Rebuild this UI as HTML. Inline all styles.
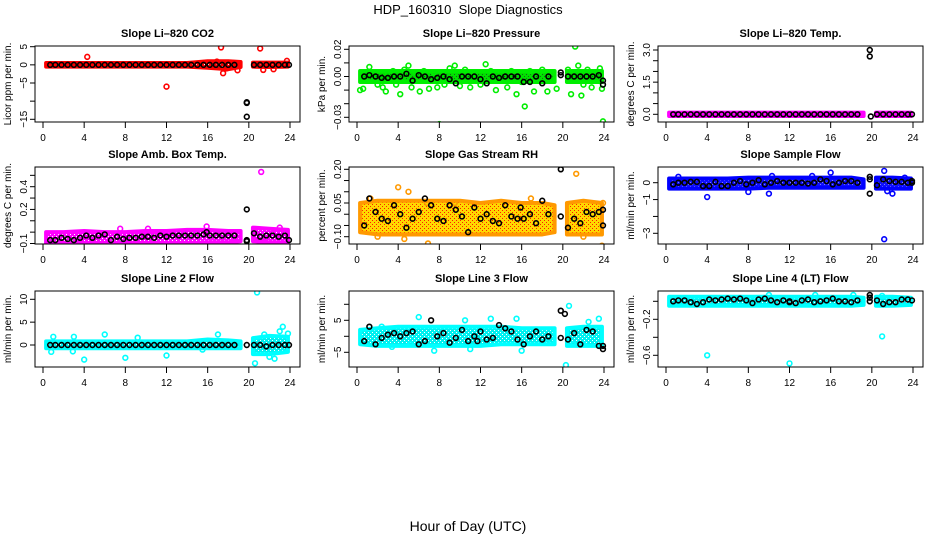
<!DOCTYPE html>
<html><head><meta charset="utf-8"><style>
body{margin:0;background:#fff;}
svg{display:block;font-family:"Liberation Sans",sans-serif;}
</style></head><body>
<svg id="chart" width="936" height="540" viewBox="0 0 936 540">
<rect width="936" height="540" fill="#fff"/>
<text x="468" y="14" text-anchor="middle" font-size="13">HDP_160310&#160; Slope Diagnostics</text>
<text x="468" y="531" text-anchor="middle" font-size="14">Hour of Day (UTC)</text>
</svg>
<script>
const xTicks = [0,4,8,12,16,20,24];
const blackHours = [0.7,1.2,1.8,2.4,3,3.6,4.2,4.8,5.4,6,6.6,7.2,7.8,8.4,9,9.6,10.2,10.8,11.4,12,12.6,13.2,13.8,14.4,15,15.6,16.2,16.8,17.4,18,18.6,19.8,20.5,21.1,21.7,22.3,22.9,23.5,23.9];
const bandHours = [0.3,2,4,6,8,10,12,14,16,18,19.2,null,20.4,22,23.8];

const co2Lo = [-0.5,-0.5,-0.5,-0.5,-0.5,-0.5,-0.5,-0.5,-0.8,-1.2,-0.6,null,-0.5,-0.6,-0.5];
const co2Hi = [0.5,0.5,0.5,0.5,0.5,0.5,0.5,0.5,1,1,0.8,null,0.6,0.6,0.6];
const co2Pts = [[4.3,2.2],[12,-6],[17.3,4.8],[17.5,-2.3],[18.9,-1.5],[21.1,4.5],[21.4,-1.4],[22.4,-1.2],[23.7,1.1],[16.9,0.9],[17.8,-1.0]];
const co2Black = [0,0,0,0,0,0,0,0,0,0,0,0,0,0,0,0,0,0,0,0,0,0,0,0,0,0,0,0,0,0,0,-10.5,0,0,0,0,0,0,0];
const co2Extra = [[19.8,-14.3],[19.8,-10.3]];

const presLo = [-0.004,-0.004,-0.004,-0.004,-0.004,-0.004,-0.004,-0.004,-0.004,-0.004,-0.004,null,-0.004,-0.004,-0.004];
const presHi = [0.004,0.004,0.004,0.004,0.004,0.004,0.004,0.004,0.004,0.004,0.004,null,0.004,0.004,0.004];
const presPts = [[0.3,-0.01],[0.6,-0.009],[1,0.001],[1.2,0.007],[1.5,0.003],[2,-0.006],[2.5,-0.008],[2.8,-0.011],[3,0.003],[3.5,0.004],[3.8,-0.006],[4.2,-0.013],[4.6,0.005],[5,0.008],[5.3,-0.008],[5.7,0.003],[6.1,-0.011],[6.5,0.004],[7,-0.009],[7.5,0.003],[7.8,-0.008],[8,-0.035],[8.5,-0.006],[9,0.006],[9.5,0.008],[10,-0.007],[10.5,0.005],[11,-0.008],[11.4,0.002],[12,-0.006],[12.5,0.009],[13,0.004],[13.5,-0.01],[14,0.002],[14.6,-0.008],[15,0.004],[15.5,-0.013],[16,-0.004],[16.3,-0.022],[16.8,0.004],[17.2,-0.011],[17.7,0.003],[18,0.005],[18.5,-0.011],[19,0.003],[19.4,-0.009],[20.5,0.005],[20.8,-0.013],[21.2,0.022],[21.5,0.008],[21.8,-0.014],[22,-0.006],[22.4,0.005],[22.8,-0.008],[23.2,0.003],[23.6,0.006],[23.8,-0.009],[23.9,-0.033]];
const presBlack = [0,0.001,0,-0.001,-0.001,0,0,0.002,-0.003,0.001,0,-0.002,-0.001,0,-0.002,-0.005,0,0,0,-0.002,-0.005,0,-0.001,0,0,0,-0.004,-0.004,0,-0.005,0,0.001,0,0,0,0,0,0.001,-0.003];
const presExtra = [[19.8,0.003],[23.9,-0.006]];

const tempLo = [-0.08,-0.08,-0.08,-0.08,-0.08,-0.08,-0.08,-0.08,-0.08,-0.08,-0.08,null,-0.08,-0.08,-0.08];
const tempHi = [0.08,0.08,0.08,0.08,0.08,0.08,0.08,0.08,0.08,0.08,0.08,null,0.08,0.08,0.08];
const tempPts = [];
const tempBlack = [0,0,0,0,0,0,0,0,0,0,0,0,0,0,0,0,0,0,0,0,0,0,0,0,0,0,0,0,0,0,0,2.7,0,0,0,0,0,0,0];
const tempExtra = [[19.8,3.0],[19.9,-0.1]];

const boxLo = [-0.1,-0.1,-0.1,-0.1,-0.1,-0.1,-0.1,-0.1,-0.09,-0.09,-0.08,null,-0.08,-0.09,-0.09];
const boxHi = [0.0,0.0,0.01,0.0,0.0,0.01,0.01,0.02,0.02,0.01,0.01,null,0.04,0.03,0.02];
const boxPts = [[4.2,-0.11],[21.2,0.53],[22.8,-0.11],[15.9,0.05],[10.2,0.03],[23,0.04],[7.5,0.03]];
const boxBlack = [-0.07,-0.07,-0.05,-0.06,-0.07,-0.05,-0.03,-0.05,-0.03,-0.02,-0.07,-0.04,-0.06,-0.05,-0.05,-0.04,-0.04,-0.05,-0.03,-0.04,-0.03,-0.03,-0.03,-0.03,-0.03,-0.02,-0.03,-0.03,-0.03,-0.03,-0.03,0.2,-0.01,-0.04,-0.03,-0.03,-0.04,-0.03,-0.07];
const boxExtra = [[19.8,-0.07],[19.8,-0.08],[15.9,0.0]];

const rhLo = [-0.08,-0.09,-0.09,-0.09,-0.09,-0.09,-0.09,-0.09,-0.09,-0.09,-0.08,null,-0.09,-0.09,-0.09];
const rhHi = [0.05,0.06,0.06,0.06,0.06,0.06,0.05,0.06,0.05,0.05,0.04,null,0.05,0.06,0.05];
const rhPts = [[4,0.12],[5,0.1],[2,-0.1],[4.6,-0.11],[6.8,0.05],[6.9,-0.13],[16.9,0.07],[21.3,0.18],[22,-0.1],[23.8,-0.14],[23.9,0.05],[1.3,0.07],[9.5,0.05]];
const rhBlack = [-0.05,0.07,0.01,-0.02,-0.03,0.04,0.0,-0.06,-0.02,0.01,0.07,0.04,-0.02,-0.03,0.04,0.02,-0.01,-0.08,0.03,-0.02,0.0,-0.03,-0.04,0.04,-0.01,-0.02,-0.02,0.0,-0.04,0.06,0.0,0.2,-0.06,-0.02,-0.04,0.01,0.0,0.01,-0.05];
const rhExtra = [[19.8,-0.01],[23.9,0.02],[15.9,0.03]];

const flowLo = [-0.35,-0.35,-0.35,-0.35,-0.35,-0.3,-0.3,-0.3,-0.3,-0.3,-0.3,null,-0.35,-0.35,-0.35];
const flowHi = [0.25,0.25,0.25,0.25,0.3,0.3,0.3,0.3,0.3,0.3,0.2,null,0.3,0.3,0.25];
const flowPts = [[4,-0.85],[8,-0.55],[10,-0.65],[16,0.6],[21.2,0.7],[21.5,-0.5],[21.2,-3.35],[22,-0.65],[1.2,0.35],[10.3,0.4],[14.2,0.4],[23.2,0.3]];
const flowBlack = [-0.1,0,0,0.05,0.05,-0.2,-0.2,0.05,-0.2,-0.2,0,0.1,-0.1,0,0.15,-0.1,0,0.1,0,0,0,0,-0.05,0,0.2,0.1,-0.1,0,0.1,0.1,0,-0.65,-0.15,0.2,0.1,0.05,0.05,0,0.1];
const flowExtra = [[19.8,0.35],[19.8,0.2],[23.9,0.0]];

const l2Lo = [-0.7,-0.7,-0.7,-0.7,-0.7,-0.7,-0.7,-0.7,-0.7,-0.7,-0.7,null,-2,-2,-1.5];
const l2Hi = [0.8,0.8,0.8,0.8,0.8,0.8,0.8,0.8,1.2,1,0.8,null,1.5,2,1.8];
const l2Pts = [[20.8,11.5],[20.6,-4],[4,-3.2],[8,-2.8],[12,-2.3],[22.5,-3],[23.3,4],[23.8,2.5],[6,2.3],[17,2.3],[1,1.8],[3,1.8],[0.8,-1.5],[2.9,-1.4],[21.5,2.3],[22,-2.6],[23,3],[9.2,1.6],[15.5,-1]];
const l2Black = [0,0,0,0,0,0,0,0,0,0,0,0,0,0,0,0,0,0,0,0,0,0,0,0,0,0,0,0,0,0,0,0,0,0,-0.3,0,0,0,0];
const l2Extra = [];

const l3Lo = [-2.5,-3,-3,-3,-3,-3,-3,-2.5,-2.5,-2.5,-2.5,null,-3,-3,-3];
const l3Hi = [2,2.5,3,3,3,3,3,3,2.5,2.5,2.5,null,2.5,3,3];
const l3Pts = [[20.6,9.5],[20.3,-9],[2.4,3],[3.4,-3.3],[6,6],[5.2,-2.5],[15.5,5.5],[16,-4.5],[22.5,4.5],[23.5,5.5],[10.5,5],[13,5.5],[18.5,-2],[21,-2.5],[22,-2.5],[7.5,-4.5],[11,-4]];
const l3Black = [-1.5,3,-2.5,-0.5,0.5,1,0,1,1.5,-2.5,-1.5,5,0,1,-2,-0.5,2,-1.5,0,1.5,-1,-0.5,3.5,2.5,1.5,-1,-2.5,0,1.5,-1,0,8,-1,1,-2.5,2,1.5,-3,-3];
const l3Extra = [[20.2,7],[19.8,-0.5],[11.7,-1.5],[23.9,-4]];

const l4Lo = [-0.05,-0.05,-0.05,-0.05,-0.05,-0.05,-0.05,-0.05,-0.05,-0.05,-0.04,null,-0.05,-0.05,-0.04];
const l4Hi = [0.05,0.05,0.05,0.05,0.05,0.05,0.05,0.05,0.05,0.05,0.04,null,0.05,0.05,0.04];
const l4Pts = [[4,-0.6],[12,-0.69],[21,-0.39],[10,0.07],[14.5,0.07],[18.2,0.07],[21,0.06]];
const l4Black = [0,0.01,0.01,-0.01,-0.03,-0.01,0.02,0.01,0.02,0.03,0.02,0.03,0.01,-0.02,0.02,0.03,0.01,-0.01,0.01,0,-0.02,0.01,0.02,-0.01,0,0.01,0.03,0,0,-0.01,0.01,0.04,0.01,-0.03,-0.01,-0.01,0.02,0.02,0.01];
const l4Extra = [[19.8,0.07],[19.8,0.0],[12,-0.01]];

const panels = [
 {name:'co2',title:'Slope Li\u2013820 CO2',ylab:'Licor ppm per min.',left:35,top:46,bottom:122,cal:[5,46.7,-15,119.3],ticks:[5,0,-5,-10,-15],labels:['5','0','\u22125',null,'\u221215'],color:'#ff0000',band:'#ff0000',dot:'#ffffff',lo:co2Lo,hi:co2Hi,pts:co2Pts,black:co2Black,extra:co2Extra},
 {name:'pressure',title:'Slope Li\u2013820 Pressure',ylab:'kPa per min.',left:349,top:46,bottom:122,cal:[0.02,49.3,-0.03,117.3],ticks:[0.02,0.01,0,-0.01,-0.02,-0.03],labels:['0.02',null,'0.00',null,null,'\u22120.03'],color:'#00ee00',band:'#00e000',dot:'#1a6a1a',lo:presLo,hi:presHi,pts:presPts,black:presBlack,extra:presExtra},
 {name:'temp',title:'Slope Li\u2013820 Temp.',ylab:'degrees C per min.',left:658,top:46,bottom:122,cal:[3,50,0,114.3],ticks:[3,2.5,2,1.5,1,0.5,0],labels:['3.0',null,null,'1.5',null,null,'0.0'],color:'#ff00ff',band:'#ff00ff',dot:'#ffffff',lo:tempLo,hi:tempHi,pts:tempPts,black:tempBlack,extra:tempExtra},
 {name:'box-temp',title:'Slope Amb. Box Temp.',ylab:'degrees C per min.',left:35,top:167,bottom:244,cal:[0.4,186.7,-0.1,243.5],ticks:[0.5,0.4,0.3,0.2,0.1,0,-0.1],labels:[null,'0.4',null,'0.2',null,null,'\u22120.1'],color:'#ff00ff',band:'#ff00ff',dot:'#ffffff',lo:boxLo,hi:boxHi,pts:boxPts,black:boxBlack,extra:boxExtra},
 {name:'gas-rh',title:'Slope Gas Stream RH',ylab:'percent per min.',left:349,top:167,bottom:244,cal:[0.2,169.3,-0.1,236.7],ticks:[0.2,0.15,0.1,0.05,0,-0.05,-0.1],labels:['0.20',null,null,'0.05',null,null,'\u22120.10'],color:'#ff9900',band:'#ffd800',dot:'#ff2000',lo:rhLo,hi:rhHi,pts:rhPts,black:rhBlack,extra:rhExtra},
 {name:'sample-flow',title:'Slope Sample Flow',ylab:'ml/min per min.',left:658,top:167,bottom:244,cal:[0,182.7,-3,233.3],ticks:[0,-1,-2,-3],labels:['0','\u22121',null,'\u22123'],color:'#0000ff',band:'#1010ff',dot:'#8080ff',lo:flowLo,hi:flowHi,pts:flowPts,black:flowBlack,extra:flowExtra},
 {name:'line2-flow',title:'Slope Line 2 Flow',ylab:'ml/min per min.',left:35,top:291,bottom:367,cal:[10,299.3,0,345],ticks:[10,5,0],labels:['10','5','0'],color:'#00ffff',band:'#00f0f0',dot:'#ffffff',lo:l2Lo,hi:l2Hi,pts:l2Pts,black:l2Black,extra:l2Extra},
 {name:'line3-flow',title:'Slope Line 3 Flow',ylab:'ml/min per min.',left:349,top:291,bottom:367,cal:[5,320.3,-5,352.3],ticks:[10,5,0,-5],labels:[null,'5',null,'\u22125'],color:'#00ffff',band:'#00f0f0',dot:'#ffffff',lo:l3Lo,hi:l3Hi,pts:l3Pts,black:l3Black,extra:l3Extra},
 {name:'line4-flow',title:'Slope Line 4 (LT) Flow',ylab:'ml/min per min.',left:658,top:291,bottom:367,cal:[0,301.3,-0.6,355.3],ticks:[0,-0.2,-0.4,-0.6],labels:[null,'\u22120.2',null,'\u22120.6'],color:'#00ffff',band:'#00f0f0',dot:'#ffffff',lo:l4Lo,hi:l4Hi,pts:l4Pts,black:l4Black,extra:l4Extra}
];

const NS='http://www.w3.org/2000/svg';
const svg=document.getElementById('chart');
function mk(tag,attrs,parent){const e=document.createElementNS(NS,tag);for(const k in attrs)e.setAttribute(k,attrs[k]);(parent||svg).appendChild(e);return e;}
const defs=mk('defs',{});

panels.forEach(p=>{
  const W=265;
  const g=mk('g',{});
  
  
  const xs=h=>p.left+8+h*(247/24);
  const ys=v=>p.cal[1]+(v-p.cal[0])*(p.cal[3]-p.cal[1])/(p.cal[2]-p.cal[0]);
  const pat=mk('pattern',{id:'pat-'+p.name,width:4,height:4,patternUnits:'userSpaceOnUse'},defs);
  mk('rect',{width:4,height:4,fill:p.band},pat);
  mk('rect',{x:0,y:0,width:1,height:1,fill:p.dot},pat);
  mk('rect',{x:2,y:2,width:1,height:1,fill:p.dot},pat);
  const t=mk('text',{x:p.left+W/2,y:p.top-9,'text-anchor':'middle','font-size':11,'font-weight':'bold'},g);
  t.textContent=p.title;
  
  
  const yl=mk('text',{x:0,y:0,'text-anchor':'middle','font-size':10,transform:`translate(${p.left-24},${(p.top+p.bottom)/2}) rotate(-90)`},g);
  yl.textContent=p.ylab;
  
  
  const clip='clip-'+p.name;
  const cp=mk('clipPath',{id:clip},g);mk('rect',{x:p.left,y:p.top,width:W,height:p.bottom-p.top},cp);
  const data=mk('g',{'clip-path':`url(#${clip})`},g);
  let seg=[];const segs=[];
  bandHours.forEach((h,i)=>{if(h===null){segs.push(seg);seg=[];}else seg.push(i);});segs.push(seg);
  segs.forEach(s=>{
    const top=s.map(i=>`${xs(bandHours[i])},${ys(p.hi[i])}`);
    const bot=s.slice().reverse().map(i=>`${xs(bandHours[i])},${ys(p.lo[i])}`);
    const b=mk('polygon',{points:top.concat(bot).join(' '),fill:`url(#pat-${p.name})`,stroke:p.color,'stroke-width':4,'stroke-linejoin':'round'},data);
    
    
  });
  p.pts.forEach(([h,v])=>{
    const c=mk('circle',{cx:xs(h),cy:ys(v),r:2.4,fill:'none',stroke:p.color,'stroke-width':1.6},data);
    
    
  });
  const blk=blackHours.map((h,i)=>[h,p.black[i]]).concat(p.extra);
  blk.forEach(([h,v])=>{
    const c=mk('circle',{cx:xs(h),cy:ys(v),r:2.4,fill:'none',stroke:'#000','stroke-width':1.6},data);
    
    
  });
  const bx=mk('rect',{x:p.left,y:p.top,width:W,height:p.bottom-p.top,fill:'none',stroke:'#000','stroke-width':1},g);
  
  
  mk('line',{x1:xs(0),x2:xs(24),y1:p.bottom,y2:p.bottom,stroke:'#000'},g);
  xTicks.forEach(h=>{
    mk('line',{x1:xs(h),x2:xs(h),y1:p.bottom,y2:p.bottom+6,stroke:'#000'},g);
    const l=mk('text',{x:xs(h),y:p.bottom+19,'text-anchor':'middle','font-size':10},g);
    l.textContent=h;
    
    
  });
  p.ticks.forEach((v,i)=>{
    const y=ys(v);
    mk('line',{x1:p.left-5,x2:p.left,y1:y,y2:y,stroke:'#000'},g);
    if(p.labels[i]!==null){
      const l=mk('text',{x:0,y:0,'text-anchor':'middle','font-size':10,transform:`translate(${p.left-8},${y}) rotate(-90)`},g);
      l.textContent=p.labels[i];
      
      
    }
  });
});
</script>
</body></html>
